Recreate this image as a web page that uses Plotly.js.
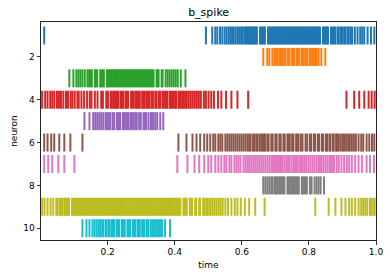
<!DOCTYPE html>
<html><head><meta charset="utf-8">
<script src="https://cdn.plot.ly/plotly-3.0.1.min.js"></script>
<style>html,body{margin:0;padding:0;background:#fff;}#chart{width:390px;height:278px;}</style>
</head><body><div id="chart"></div>
<script>
// spike times, neuron 1..10
const neuron1 = [0.011,0.493,0.512,0.521,0.527,0.535,0.542,0.549,0.555,0.561,0.566,0.571,0.576,0.582,0.588,0.593,0.598,0.603,
 0.609,0.613,0.617,0.621,0.625,0.629,0.633,0.637,0.641,0.645,0.654,0.658,0.662,0.666,0.669,
 0.678,0.681,0.685,0.689,0.693,0.697,0.701,0.705,0.709,0.713,0.717,0.721,0.725,0.729,0.733,0.737,0.741,0.745,0.749,0.753,
 0.757,0.761,0.765,0.769,0.773,0.777,0.781,0.785,0.789,0.793,0.797,0.801,0.805,0.809,0.813,0.817,0.821,0.825,0.829,0.833,
 0.842,0.846,0.850,0.854,0.857,0.866,0.870,0.874,0.878,0.885,0.889,0.895,0.899,0.905,0.909,0.915,0.919,0.925,0.929,0.937,
 0.945,0.953,0.959,0.965,0.975,0.985,0.995];
const neuron2 = [0.664,0.676,0.682,0.691,0.697,0.702,0.706,0.712,0.716,0.720,0.726,0.730,0.737,0.741,0.748,0.752,0.756,0.763,
 0.767,0.771,0.778,0.782,0.785,0.791,0.795,0.802,0.806,0.811,0.815,0.819,0.823,0.829,0.837,0.849];
const neuron3 = [0.086,0.098,0.107,0.113,0.119,0.125,0.132,0.140,0.145,0.149,0.153,0.162,0.165,0.169,0.178,0.181,0.185,0.189,
 0.198,0.201,0.205,0.209,0.213,0.217,0.221,0.225,0.229,0.233,0.237,0.241,0.245,0.249,0.253,0.257,0.261,0.265,0.269,0.273,
 0.277,0.281,0.285,0.289,0.293,0.297,0.301,0.305,0.309,0.313,0.317,0.321,0.325,0.329,0.333,0.337,
 0.346,0.349,0.352,0.361,0.364,0.373,0.379,0.385,0.391,0.397,0.403,0.409,0.418,0.432];
const neuron4 = [0.005,0.014,0.021,0.029,0.035,0.041,0.049,0.055,0.061,0.068,0.076,0.082,0.090,0.095,0.102,0.110,0.114,0.122,
 0.130,0.139,0.147,0.152,0.162,0.170,0.181,0.186,0.196,0.201,0.209,0.213,0.219,0.223,0.227,0.231,0.238,0.242,0.246,0.253,
 0.257,0.261,0.270,0.274,0.278,0.284,0.288,0.292,0.296,0.303,0.307,0.311,0.317,0.321,0.325,0.331,0.335,0.342,0.346,0.353,
 0.357,0.364,0.368,0.374,0.378,0.385,0.389,0.395,0.401,0.405,0.412,0.416,0.422,0.426,0.431,0.436,0.442,0.448,0.454,0.460,
 0.466,0.472,0.478,0.487,0.493,0.501,0.509,0.517,0.529,0.539,0.553,0.569,0.587,0.619,0.912,0.935,0.950,0.965,0.978,0.987,0.996];
const neuron5 = [0.131,0.146,0.157,0.163,0.169,0.175,0.181,0.187,0.194,0.198,0.204,0.208,0.215,0.219,0.227,0.231,0.235,0.238,
 0.246,0.249,0.255,0.259,0.262,0.268,0.272,0.276,0.282,0.287,0.294,0.299,0.307,0.311,0.315,0.322,0.329,0.332,0.336,0.342,
 0.348,0.357,0.366];
const neuron6 = [0.011,0.021,0.032,0.041,0.056,0.071,0.089,0.125,0.411,0.435,0.453,0.465,0.476,0.488,0.497,0.506,0.515,0.521,
 0.530,0.536,0.542,0.551,0.557,0.563,0.569,0.575,0.581,0.587,0.593,0.599,0.605,0.611,0.617,0.622,0.626,0.633,0.637,0.643,
 0.647,0.653,0.658,0.662,0.666,0.669,0.676,0.680,0.688,0.692,0.700,0.704,0.712,0.716,0.724,0.728,0.736,0.740,0.743,0.750,
 0.754,0.762,0.766,0.769,0.776,0.781,0.790,0.795,0.803,0.807,0.815,0.819,0.827,0.831,0.839,0.843,0.851,0.854,0.861,0.864,
 0.871,0.874,0.881,0.884,0.889,0.895,0.901,0.905,0.911,0.917,0.922,0.928,0.934,0.940,0.948,0.956,0.962,0.972,0.980,0.988,0.995];
const neuron7 = [0.011,0.023,0.035,0.053,0.071,0.101,0.408,0.438,0.459,0.473,0.488,0.500,0.509,0.521,0.530,0.539,0.548,0.554,
 0.563,0.569,0.578,0.584,0.590,0.596,0.605,0.611,0.617,0.622,0.628,0.634,0.640,0.646,0.652,0.658,0.664,0.670,0.676,0.682,
 0.688,0.692,0.696,0.702,0.708,0.714,0.718,0.722,0.728,0.734,0.738,0.742,0.748,0.754,0.758,0.762,0.768,0.774,0.778,0.782,
 0.788,0.793,0.799,0.805,0.811,0.817,0.823,0.829,0.833,0.837,0.843,0.849,0.855,0.861,0.865,0.869,0.875,0.883,0.889,0.897,
 0.905,0.913,0.920,0.928,0.938,0.948,0.958,0.972,0.982,0.994];
const neuron8 = [0.664,0.670,0.676,0.682,0.688,0.692,0.698,0.702,0.705,0.711,0.715,0.719,0.723,0.727,0.736,0.739,0.742,0.746,
 0.750,0.754,0.758,0.762,0.766,0.770,0.779,0.782,0.786,0.790,0.794,0.803,0.808,0.817,0.823,0.829,0.835,0.845];
const neuron9 = [0.005,0.012,0.021,0.030,0.038,0.047,0.051,0.057,0.061,0.065,0.071,0.075,0.079,0.083,0.085,
 0.094,0.097,0.101,0.105,0.109,0.113,0.117,0.121,0.125,0.129,0.133,0.137,0.141,0.145,0.149,0.153,0.157,0.161,0.165,0.169,
 0.173,0.177,0.181,0.185,0.189,0.193,0.197,0.201,0.205,0.209,0.213,0.217,0.221,0.225,0.229,0.233,0.237,0.241,0.245,0.249,
 0.253,0.257,0.261,0.265,0.269,0.273,0.277,0.281,0.285,0.289,0.293,0.297,0.301,0.305,0.309,0.313,0.317,0.321,0.325,0.329,
 0.333,0.337,0.341,0.345,0.349,0.353,0.357,0.361,0.365,0.369,0.373,0.377,0.381,0.385,0.389,0.393,0.397,0.401,0.405,0.409,
 0.413,0.417,0.426,0.429,0.432,0.436,0.445,0.448,0.452,0.461,0.464,0.473,0.476,0.485,0.488,0.494,0.497,0.503,0.507,0.513,
 0.519,0.525,0.531,0.537,0.543,0.551,0.559,0.569,0.579,0.587,0.597,0.609,0.622,0.640,0.668,0.819,0.859,0.879,0.897,0.909,
 0.920,0.928,0.938,0.948,0.956,0.962,0.968,0.974,0.982,0.986,0.992,0.996];
const neuron10 = [0.125,0.137,0.146,0.155,0.161,0.167,0.173,0.178,0.184,0.187,0.194,0.197,0.203,0.206,0.212,0.216,0.220,0.227,
 0.231,0.235,0.243,0.247,0.251,0.259,0.263,0.267,0.275,0.279,0.282,0.289,0.293,0.296,0.303,0.307,0.310,0.317,0.321,0.328,
 0.333,0.338,0.344,0.350,0.356,0.362,0.371,0.386];

const spikeTrains = [neuron1,neuron2,neuron3,neuron4,neuron5,neuron6,neuron7,neuron8,neuron9,neuron10];
const neuronIds = [1,2,3,4,5,6,7,8,9,10];
const colors = ['#1f77b4','#ff7f0e','#2ca02c','#d62728','#9467bd','#8c564b','#e377c2','#7f7f7f','#bcbd22','#17becf'];
const xTickVals = [0.2,0.4,0.6,0.8,1.0];
const xTickText = ['0.2','0.4','0.6','0.8','1.0'];
const yTickVals = [2,4,6,8,10];
const yTickText = ['2','4','6','8','10'];

const half = 0.42;
const traces = spikeTrains.map((times, i) => {
  const n = neuronIds[i];
  const x = [], y = [];
  times.forEach(t => { x.push(t, t, null); y.push(n - half, n + half, null); });
  return {type:'scatter', mode:'lines', x, y, line:{color:colors[i], width:2, simplify:false}, hoverinfo:'skip', showlegend:false};
});

const font = {family:'DejaVu Sans, sans-serif', size:9, color:'#000'};
const layout = {
  width:390, height:278,
  margin:{l:41, r:14, t:22, b:38},
  paper_bgcolor:'#fff', plot_bgcolor:'#fff',
  font: font,
  title:{text:'b_spike', font:{family:'DejaVu Sans, sans-serif', size:11, color:'#000'}, x:0.535, xanchor:'center', y:0.955, yanchor:'middle'},
  xaxis:{range:[0.0015,1.0], tickvals:xTickVals, ticktext:xTickText, ticks:'outside', ticklen:3.5, tickwidth:0.8, tickcolor:'#000',
    showline:true, mirror:true, linecolor:'#222', linewidth:1, showgrid:false, zeroline:false, tickfont:font,
    title:{text:'time', font:font, standoff:5}},
  yaxis:{range:[10.55,0.37], autorange:false, tickvals:yTickVals, ticktext:yTickText, ticks:'outside', ticklen:3.5, tickwidth:0.8, tickcolor:'#000',
    showline:true, mirror:true, linecolor:'#222', linewidth:1, showgrid:false, zeroline:false, tickfont:font,
    title:{text:'neuron', font:font, standoff:4}}
};
Plotly.newPlot('chart', traces, layout, {displayModeBar:false, staticPlot:true});
</script></body></html>
